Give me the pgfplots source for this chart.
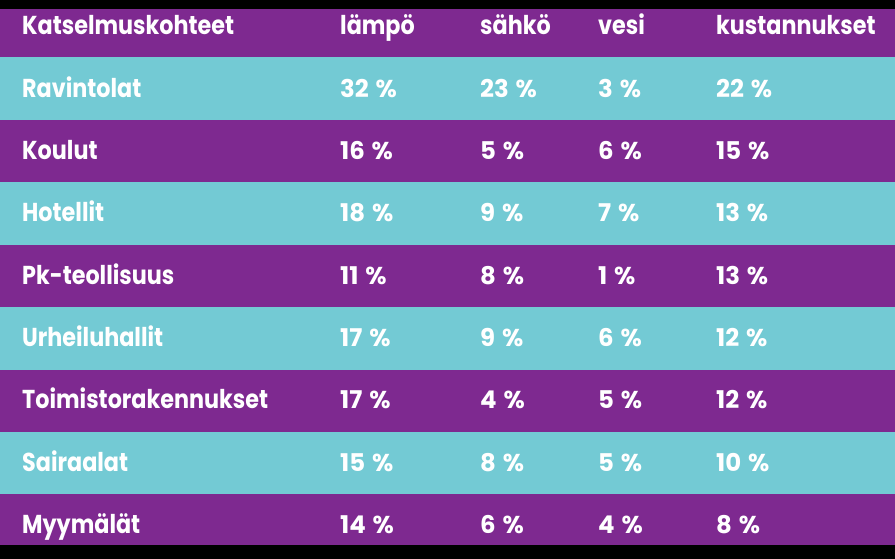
\documentclass[border=0pt]{standalone}
\usepackage{pgfplots}
\pgfplotsset{compat=1.18}
\usepackage{pgfplotstable}
\usepackage{fontspec}
\setmainfont{Poppins}
\newfontfamily\narrow{Poppins}[FakeStretch=0.86]
\definecolor{purp}{RGB}{126,41,144}
\definecolor{cyanb}{RGB}{115,202,212}

% baseline y (px from top), names and shares in %
\pgfplotstableread[col sep=comma]{
y,name,lampo,sahko,vesi,kust
97.3,Ravintolat,32,23,3,22
159.6,Koulut,16,5,6,15
221.9,Hotellit,18,9,7,13
284.2,Pk-teollisuus,11,8,1,13
346.5,Urheiluhallit,17,9,6,12
408.8,Toimistorakennukset,17,4,5,12
471.1,Sairaalat,15,8,5,10
533.4,Myymälät,14,6,4,8
}\rows

\pgfplotstableread[col sep=comma]{
x,y,name
22,35,Katselmuskohteet
340,35,lämpö
480,35,sähkö
598,35,vesi
716,35,kustannukset
}\heads

\begin{document}
\begin{tikzpicture}
\begin{axis}[
    width=895bp, height=559bp, scale only axis,
    xmin=0, xmax=895, ymin=0, ymax=559, y dir=reverse,
    hide axis, clip=false,
    every node near coord/.style={anchor=base west, inner sep=0pt, text=white,
        font=\narrow\fontsize{26}{30}\selectfont\bfseries},
    pct/.style={draw=none, mark=none, point meta=explicit symbolic,
        every node near coord/.append style={font=\fontsize{24.5}{28}\selectfont\bfseries},
        nodes near coords={\pgfplotspointmeta\hspace{0.28em}\%}},
]
% bands
\addplot[fill=black, draw=none] coordinates {(0,0) (895,0) (895,559) (0,559)} -- cycle;
\addplot[fill=purp, draw=none] coordinates {(0,9) (895,9) (895,57) (0,57)} -- cycle;
\addplot[fill=cyanb, draw=none] coordinates {(0,57) (895,57) (895,120) (0,120)} -- cycle;
\addplot[fill=purp, draw=none] coordinates {(0,120) (895,120) (895,182) (0,182)} -- cycle;
\addplot[fill=cyanb, draw=none] coordinates {(0,182) (895,182) (895,245) (0,245)} -- cycle;
\addplot[fill=purp, draw=none] coordinates {(0,245) (895,245) (895,307) (0,307)} -- cycle;
\addplot[fill=cyanb, draw=none] coordinates {(0,307) (895,307) (895,370) (0,370)} -- cycle;
\addplot[fill=purp, draw=none] coordinates {(0,370) (895,370) (895,432) (0,432)} -- cycle;
\addplot[fill=cyanb, draw=none] coordinates {(0,432) (895,432) (895,494) (0,494)} -- cycle;
\addplot[fill=purp, draw=none] coordinates {(0,494) (895,494) (895,545) (0,545)} -- cycle;
% text
\addplot[draw=none, mark=none, nodes near coords, point meta=explicit symbolic]
    table[x=x, y=y, meta=name] {\heads};
\addplot[draw=none, mark=none, nodes near coords, point meta=explicit symbolic]
    table[x expr=22, y=y, meta=name] {\rows};
\addplot[pct] table[x expr=340, y=y, meta=lampo] {\rows};
\addplot[pct] table[x expr=480, y=y, meta=sahko] {\rows};
\addplot[pct] table[x expr=598, y=y, meta=vesi] {\rows};
\addplot[pct] table[x expr=716, y=y, meta=kust] {\rows};
\end{axis}
\end{tikzpicture}
\end{document}
